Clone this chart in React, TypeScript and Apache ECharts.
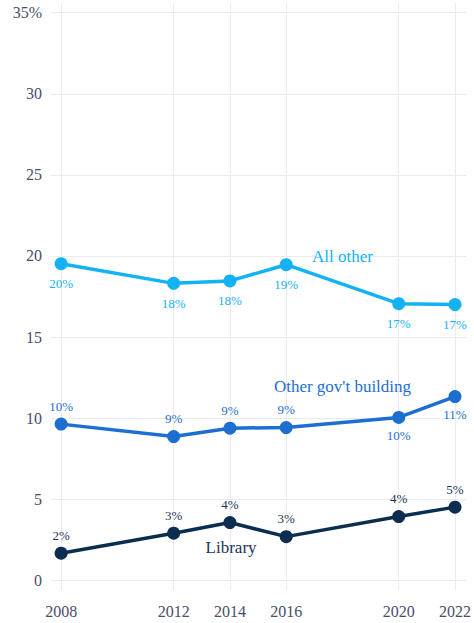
import React, { useEffect, useRef } from "react";
import * as echarts from "echarts";

const years = [2008, 2012, 2014, 2016, 2020, 2022];
const yTicks = [0, 5, 10, 15, 20, 25, 30, 35];
const allOther = [19.52, 18.31, 18.46, 19.46, 17.06, 17.0];
const otherGov = [9.63, 8.86, 9.38, 9.42, 10.04, 11.33];
const library = [1.67, 2.9, 3.56, 2.69, 3.93, 4.51];
// label positions for Other gov't building points
const otherGovLabelPos = ["top", "top", "top", "top", "bottom", "bottom"];

const seriesNames = ["All other", "Other gov't building", "Library"];
const nameAnchors: [number, number][] = [
  [2018.0, 19.96],
  [2018.0, 11.93],
  [2014.04, 2.0],
];
const colors = ["#12b2f5", "#1c6fd1", "#0c2d50"];
const FONT = "Liberation Serif";

export default function App() {
  const ref = useRef<HTMLDivElement>(null);
  useEffect(() => {
    if (!ref.current) return;
    const chart = echarts.init(ref.current, undefined, { renderer: "svg" });
    const datasets = [allOther, otherGov, library];
    const series = datasets.map((vals, si) => ({
      name: seriesNames[si],
      type: "line",
      data: vals.map((v, i) => {
        const item: any = { value: [years[i], v] };
        if (si === 1) {
          item.label = { position: otherGovLabelPos[i] };
        }
        return item;
      }),
      symbol: "circle",
      symbolSize: 13,
      lineStyle: { width: 3.5, color: colors[si] },
      itemStyle: { color: colors[si] },
      label: {
        show: true,
        position: si === 0 ? "bottom" : "top",
        distance: si === 0 ? 7 : 5,
        formatter: (p: any) => Math.round(p.value[1]) + "%",
        color: colors[si] === "#0c2d50" ? "#1d3557" : colors[si],
        fontFamily: FONT,
        fontSize: 13,
      },
      markPoint: {
        symbol: "circle",
        symbolSize: 0,
        silent: true,
        data: [
          {
            coord: nameAnchors[si],
            label: {
              show: true,
              position: "inside",
              formatter: seriesNames[si],
              color: colors[si] === "#0c2d50" ? "#1d3557" : colors[si],
              fontFamily: FONT,
              fontSize: 17,
            },
          },
        ],
      },
      z: 3 - si,
    }));
    chart.setOption({
      animation: false,
      grid: { left: 51, right: 8, top: 3, bottom: 33, containLabel: false },
      xAxis: {
        type: "value",
        min: 2007.64,
        max: 2022.39,
        axisLine: { show: false },
        axisTick: { show: false, customValues: years },
        axisLabel: {
          customValues: years,
          margin: 13,
          color: "#4a4e69",
          fontFamily: FONT,
          fontSize: 16,
          formatter: (v: number) => String(v),
        },
        splitLine: { show: true, lineStyle: { color: "#ebebeb", width: 1 } },
      },
      yAxis: {
        type: "value",
        min: -0.6,
        max: 35.6,
        axisLine: { show: false },
        axisTick: { show: false, customValues: yTicks },
        axisLabel: {
          customValues: yTicks,
          margin: 9,
          color: "#4a4e69",
          fontFamily: FONT,
          fontSize: 16,
          formatter: (v: number) => (v === 35 ? "35%" : String(v)),
        },
        splitLine: { show: true, lineStyle: { color: "#ebebeb", width: 1 } },
      },
      series,
    });
    return () => chart.dispose();
  }, []);
  return <div ref={ref} style={{ width: 474, height: 623, position: "absolute", left: 0, top: 0 }} />;
}
